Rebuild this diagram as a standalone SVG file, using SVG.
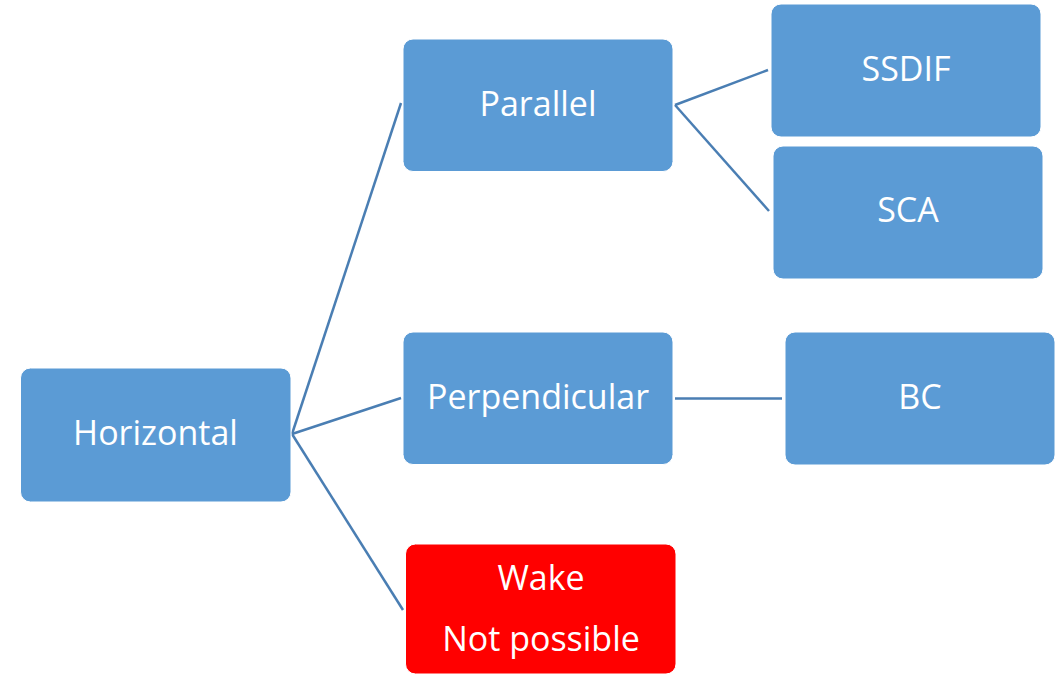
<svg xmlns="http://www.w3.org/2000/svg" width="1063" height="674" viewBox="0 0 1063 674">
<style>
.box{fill:#5B9BD5;stroke:#ffffff;stroke-width:1}
.red{fill:#FF0000;stroke:#ffffff;stroke-width:1}
.lbl{font-family:"Open Sans","Liberation Sans",sans-serif;font-size:34px;fill:#ffffff;text-anchor:middle}
.conn{stroke:#4A7EB3;stroke-width:2.5;fill:none}
</style>
<rect width="1063" height="674" fill="#ffffff"/>
<g id="connectors">
<line class="conn" x1="292" y1="434" x2="401" y2="103"/>
<line class="conn" x1="292" y1="434" x2="401" y2="398"/>
<line class="conn" x1="292" y1="434" x2="403" y2="610"/>
<line class="conn" x1="675" y1="105" x2="768" y2="70"/>
<line class="conn" x1="675" y1="105" x2="769" y2="211"/>
<line class="conn" x1="675" y1="398.5" x2="782" y2="398.5"/>
</g>
<g id="horizontal">
<rect class="box" x="20.5" y="368" width="270.5" height="134" rx="10"/>
<text class="lbl" x="155.5" y="445">Horizontal</text>
</g>
<g id="parallel">
<rect class="box" x="403" y="39" width="270" height="132.5" rx="10"/>
<text class="lbl" x="538" y="116">Parallel</text>
</g>
<g id="perpendicular">
<rect class="box" x="403" y="332" width="270" height="132.5" rx="10"/>
<text class="lbl" x="538" y="409">Perpendicular</text>
</g>
<g id="ssdif">
<rect class="box" x="771" y="4" width="270" height="133" rx="10"/>
<text class="lbl" x="906" y="81">SSDIF</text>
</g>
<g id="sca">
<rect class="box" x="773" y="146" width="270" height="133" rx="10"/>
<text class="lbl" x="908" y="222">SCA</text>
</g>
<g id="bc">
<rect class="box" x="785" y="332" width="270" height="133" rx="10"/>
<text class="lbl" x="920" y="409">BC</text>
</g>
<g id="wake">
<rect class="red" x="405.5" y="544" width="270.5" height="130" rx="10"/>
<text class="lbl" x="541" y="590">Wake</text>
<text class="lbl" x="541" y="651">Not possible</text>
</g>
</svg>
